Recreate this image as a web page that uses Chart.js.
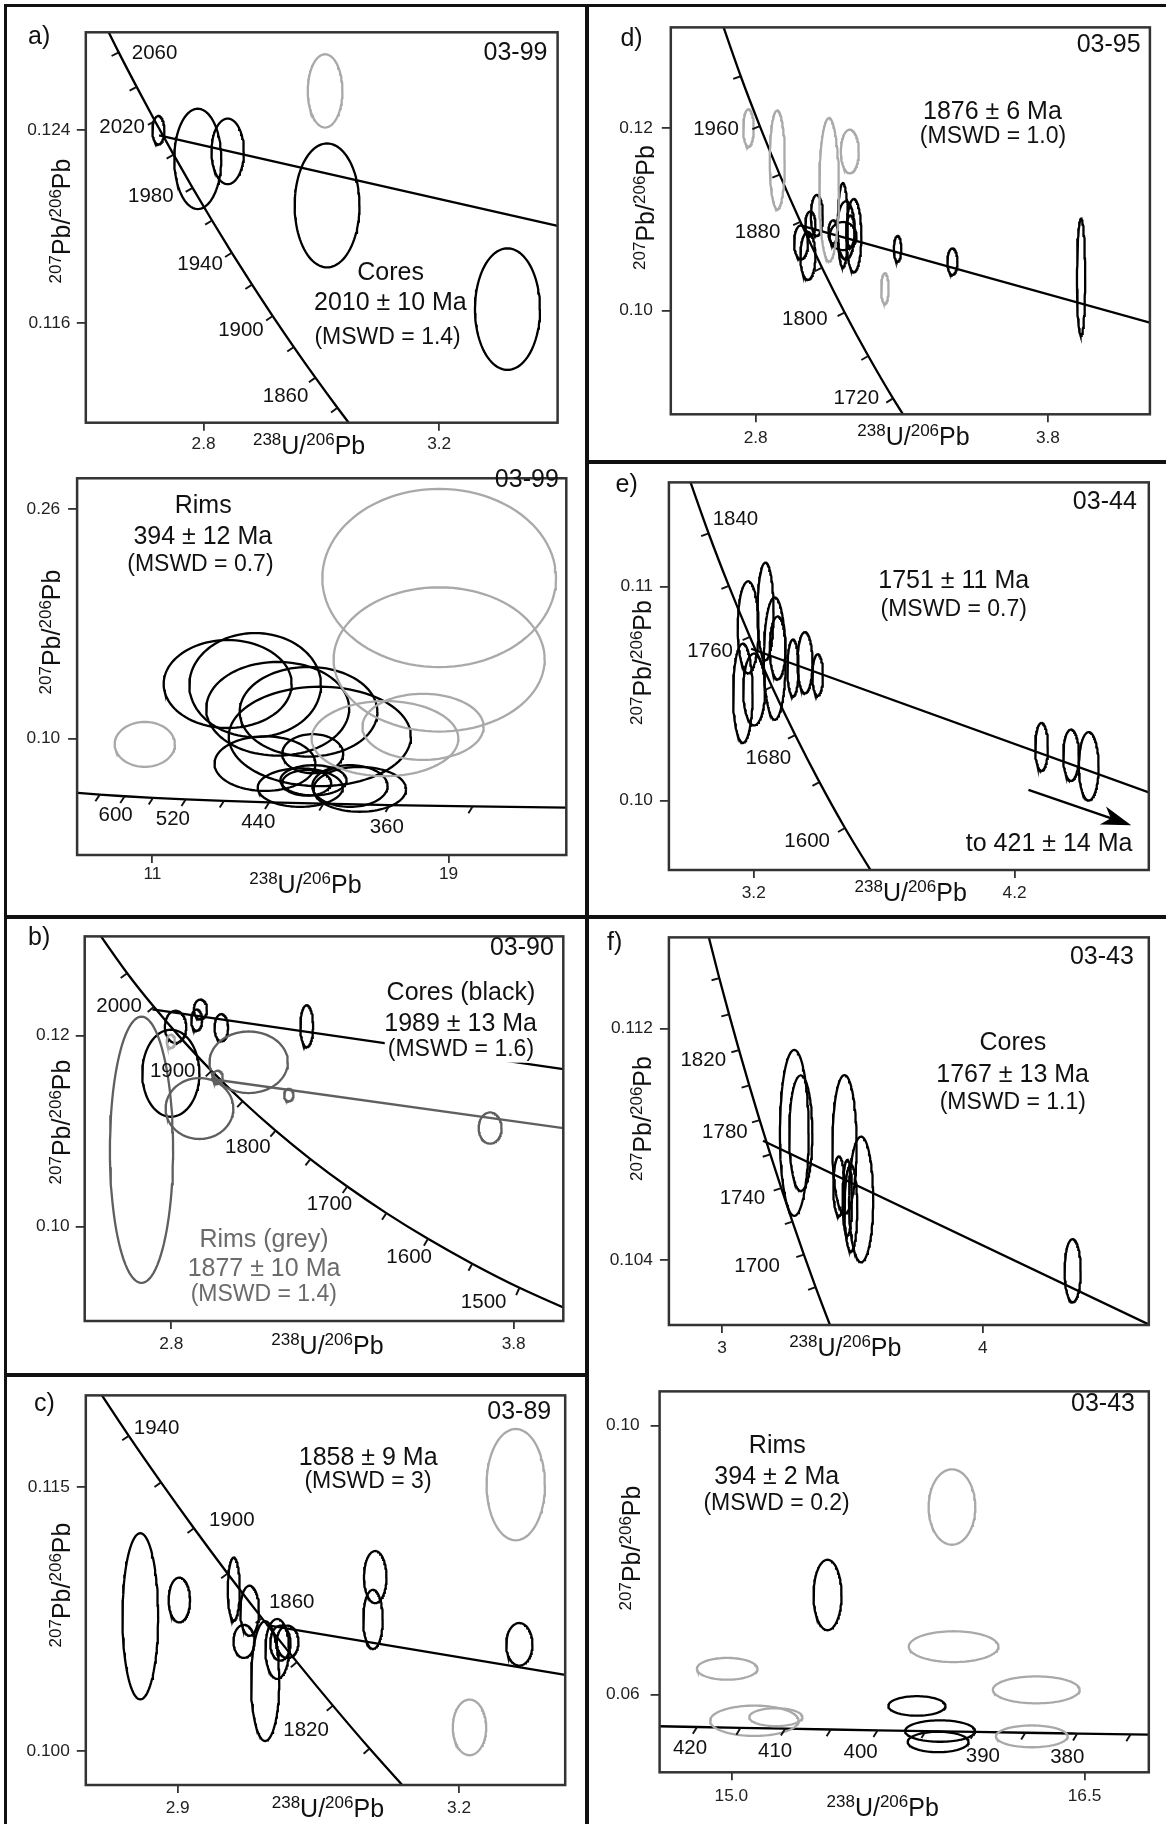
<!DOCTYPE html>
<html><head><meta charset="utf-8"><title>U-Pb concordia diagrams</title>
<script src="https://cdn.jsdelivr.net/npm/chart.js@4.4.1/dist/chart.umd.min.js"></script>
<style>
html,body{margin:0;padding:0;background:#fff;}
#page{position:relative;width:1166px;height:1824px;overflow:hidden;background:#fff;}
#page canvas{position:absolute;}
.rule{position:absolute;background:#111;z-index:5;}
</style></head><body><div id="page">
<div class="rule" style="left:4px;top:4px;width:1162px;height:3px"></div>
<div class="rule" style="left:4px;top:4px;width:3px;height:1820px"></div>
<div class="rule" style="left:585px;top:4px;width:4px;height:1820px"></div>
<div class="rule" style="left:4px;top:915px;width:1162px;height:4px"></div>
<div class="rule" style="left:4px;top:1373px;width:583px;height:4px"></div>
<div class="rule" style="left:587px;top:460px;width:579px;height:4px"></div>
</div>
<script>
// ================= DATA =================
// ellipses: [centre 238U/206Pb, centre 207Pb/206Pb, half-width, half-height]
// ---- a) 03-99 cores ----
const a1ConcAge = [2100,2060,2040,2020,2000,1980,1960,1940,1920,1900,1880,1860,1840,1820];
const a1ConcX = [2.59682,2.65591,2.68638,2.71736,2.74902,2.78132,2.81429,2.84794,2.88229,2.91737,2.95321,2.98983,3.02724,3.06548];
const a1ConcY = [0.130151,0.127227,0.125796,0.124381,0.122987,0.121611,0.120255,0.118916,0.117595,0.116293,0.115008,0.113739,0.112490,0.111254];
const a1ConcLabels = [2060,2020,1980,1940,1900,1860];
const a1Black = [[2.7232,0.12400,0.0102,0.00059],[2.7901,0.12281,0.0399,0.00208],[2.8409,0.12312,0.0275,0.00136],[3.0096,0.12088,0.0550,0.00257],[3.3159,0.11658,0.0552,0.00252]];
const a1Grey = [[3.0063,0.12563,0.0294,0.00152]];
const a1DiscX = [2.7244,3.401];
const a1DiscY = [0.12379,0.12003];
const a1XTicks = [2.8,3.2], a1XLabels = ['2.8','3.2'];
const a1YTicks = [0.116,0.124], a1YLabels = ['0.116','0.124'];
// ---- a) 03-99 rims ----
const a2ConcAge = [720,680,640,600,560,520,480,440,400,360,320,260];
const a2ConcX = [8.4627,8.9888,9.5808,10.2518,11.0187,11.9037,12.9362,14.1566,15.6212,17.4115,19.6491,24.2973];
const a2ConcY = [0.063350,0.062171,0.061022,0.059901,0.058808,0.057743,0.056703,0.055689,0.054701,0.053736,0.052795,0.051427];
const a2ConcLabels = [600,520,440,360];
const a2Black = [[13.034,0.1380,1.729,0.0306],[13.776,0.1373,1.778,0.0362],[14.385,0.1208,1.931,0.0326],[15.218,0.1187,1.860,0.0312],[15.523,0.1015,2.461,0.0346],[14.041,0.0826,1.363,0.0190],[15.331,0.0895,0.823,0.0136],[14.995,0.0659,1.149,0.0134],[15.352,0.0710,0.894,0.0105],[15.169,0.0692,0.661,0.0089],[16.337,0.0670,1.017,0.0145],[16.602,0.0647,1.250,0.0156]];
const a2Grey = [[10.796,0.0960,0.814,0.0156],[18.746,0.2118,3.156,0.0620],[18.746,0.1551,2.851,0.0502],[18.310,0.1082,1.637,0.0230],[17.283,0.1000,1.982,0.0261]];
const a2XTicks = [11,19], a2XLabels = ['11','19'];
const a2YTicks = [0.10,0.26], a2YLabels = ['0.10','0.26'];
// ---- b) 03-90 ----
const bConcAge = [2150,2050,2000,1950,1900,1850,1800,1750,1700,1650,1600,1550,1500,1400];
const bConcX = [2.52608,2.67105,2.74902,2.83102,2.91737,3.00843,3.10458,3.20626,3.31396,3.42823,3.54967,3.67904,3.81699,4.12266];
const bConcY = [0.133920,0.126508,0.122987,0.119583,0.116293,0.113111,0.110036,0.107062,0.104186,0.101406,0.098716,0.096114,0.093597,0.088807];
const bConcLabels = [2000,1900,1800,1700,1600,1500];
const bCores = [[2.8124,0.12090,0.0313,0.00168],[2.8850,0.12272,0.0192,0.00103],[2.8740,0.12160,0.0159,0.00111],[2.9460,0.12081,0.0198,0.00142],[3.1955,0.12097,0.0187,0.00219],[2.7986,0.11604,0.0835,0.00455]];
const bRims = [[2.7129,0.10803,0.0923,0.01393],[2.8823,0.11235,0.0989,0.00319],[3.0260,0.11719,0.1144,0.00322],[2.9354,0.11562,0.0148,0.00069],[3.1431,0.11376,0.0137,0.00065],[3.7313,0.11031,0.0335,0.00163]];
const bExcluded = [[2.7986,0.11938,0.0121,0.00069]];
const bCoreDiscX = [2.7448,3.945], bCoreDiscY = [0.12272,0.11647];
const bRimDiscX = [2.9153,3.945], bRimDiscY = [0.11544,0.11029];
const bXTicks = [2.8,3.8], bXLabels = ['2.8','3.8'];
const bYTicks = [0.10,0.12], bYLabels = ['0.10','0.12'];
// ---- c) 03-89 ----
const cConcAge = [1980,1940,1920,1900,1880,1860,1840,1820,1800,1760];
const cConcX = [2.78132,2.84794,2.88229,2.91737,2.95321,2.98983,3.02724,3.06548,3.10458,3.18546];
const cConcY = [0.123302,0.117912,0.115270,0.112666,0.110096,0.107558,0.105060,0.102588,0.100152,0.095378];
const cConcLabels = [1940,1900,1860,1820];
const cBlack = [[2.8602,0.10766,0.0190,0.00472],[2.9018,0.10859,0.0114,0.00127],[2.9598,0.10921,0.0064,0.00179],[2.9767,0.10798,0.0100,0.00142],[2.9707,0.10624,0.0112,0.00094],[2.9933,0.10398,0.0150,0.00340],[3.0061,0.10581,0.0126,0.00170],[3.0095,0.10614,0.0108,0.00099],[3.0172,0.10621,0.0116,0.00092],[3.1106,0.10989,0.0120,0.00148],[3.1082,0.10749,0.0104,0.00168],[3.2642,0.10607,0.0140,0.00121]];
const cGrey = [[3.2604,0.11514,0.0311,0.00316],[3.2111,0.10135,0.0178,0.00158]];
const cDiscX = [2.995,3.3131], cDiscY = [0.10716,0.10434];
const cXTicks = [2.9,3.2], cXLabels = ['2.9','3.2'];
const cYTicks = [0.100,0.115], cYLabels = ['0.100','0.115'];
// ---- d) 03-95 ----
const dConcAge = [2080,2000,1960,1920,1880,1840,1800,1760,1720,1660];
const dConcX = [2.62608,2.74902,2.81429,2.88229,2.95321,3.02724,3.10458,3.18546,3.27012,3.40481];
const dConcY = [0.137058,0.125674,0.120210,0.114890,0.109716,0.104680,0.099772,0.094998,0.090350,0.083608];
const dConcLabels = [1960,1880,1800,1720];
const dGrey = [[2.7754,0.12000,0.0180,0.00206],[2.8740,0.11650,0.0257,0.00543],[3.0512,0.11322,0.0338,0.00787],[3.1222,0.11743,0.0307,0.00239],[3.2422,0.10240,0.0128,0.00168]];
const dBlack = [[2.9553,0.10747,0.0238,0.00186],[2.9787,0.10598,0.0257,0.00262],[2.9872,0.10951,0.0173,0.00134],[3.0094,0.11042,0.0205,0.00224],[3.0650,0.10861,0.0160,0.00127],[3.0984,0.10933,0.0173,0.00463],[3.1088,0.10879,0.0300,0.00318],[3.0992,0.10815,0.0460,0.00154],[3.1360,0.10821,0.0257,0.00401],[3.1241,0.10870,0.0146,0.00172],[3.2856,0.10676,0.0128,0.00141],[3.4732,0.10535,0.0173,0.00145],[3.9135,0.10364,0.0141,0.00642]];
const dDiscX = [2.9534,4.149], dDiscY = [0.10933,0.09866];
const dXTicks = [2.8,3.8], dXLabels = ['2.8','3.8'];
const dYTicks = [0.10,0.12], dYLabels = ['0.10','0.12'];
// ---- e) 03-44 ----
const eConcAge = [1900,1840,1800,1760,1720,1680,1640,1600,1540];
const eConcX = [2.91737,3.02724,3.10458,3.18546,3.27012,3.35884,3.45192,3.54967,3.70586];
const eConcY = [0.116293,0.112490,0.110036,0.107649,0.105325,0.103063,0.100860,0.098716,0.095603];
const eConcLabels = [1840,1760,1680,1600];
const eBlack = [[3.1785,0.10810,0.0400,0.00215],[3.1583,0.10502,0.0374,0.00232],[3.2013,0.10519,0.0417,0.00168],[3.2451,0.10885,0.0309,0.00228],[3.2804,0.10664,0.0417,0.00286],[3.2916,0.10714,0.0301,0.00147],[3.3504,0.10620,0.0215,0.00133],[3.3964,0.10645,0.0288,0.00143],[3.4450,0.10587,0.0202,0.00097],[4.3031,0.10251,0.0245,0.00112],[4.4162,0.10212,0.0301,0.00120],[4.4841,0.10160,0.0378,0.00160]];
const eDiscX = [3.19,4.7143], eDiscY = [0.10710,0.10038];
const eArrowX = [4.2530,4.6470], eArrowY = [0.10050,0.09884];
const eXTicks = [3.2,4.2], eXLabels = ['3.2','4.2'];
const eYTicks = [0.10,0.11], eYLabels = ['0.10','0.11'];
// ---- f) 03-43 cores ----
const f1ConcAge = [1900,1860,1840,1820,1800,1780,1760,1740,1720,1700,1680,1640];
const f1ConcX = [2.91737,2.98983,3.02724,3.06548,3.10458,3.14456,3.18546,3.22732,3.27012,3.31396,3.35884,3.45192];
const f1ConcY = [0.116293,0.113739,0.112490,0.111254,0.110036,0.108834,0.107649,0.106479,0.105325,0.104186,0.103063,0.100860];
const f1ConcLabels = [1820,1780,1740,1700];
const f1Black = [[3.2772,0.10839,0.0551,0.00287],[3.3021,0.10838,0.0444,0.00200],[3.4697,0.10799,0.0464,0.00240],[3.4482,0.10655,0.0215,0.00103],[3.4804,0.10615,0.0180,0.00131],[3.4942,0.10579,0.0245,0.00150],[3.5333,0.10609,0.0464,0.00217],[4.3442,0.10363,0.0309,0.00109]];
const f1DiscX = [3.1573,4.6330], f1DiscY = [0.10812,0.10178];
const f1XTicks = [3,4], f1XLabels = ['3','4'];
const f1YTicks = [0.104,0.112], f1YLabels = ['0.104','0.112'];
// ---- f) 03-43 rims ----
const f2ConcAge = [430,420,415,410,405,400,395,390,385,380,375,365];
const f2ConcX = [14.4972,14.8541,15.0389,15.2283,15.4223,15.6212,15.8251,16.0343,16.2489,16.4692,16.6953,17.1661];
const f2ConcY = [0.055439,0.055192,0.055068,0.054945,0.054823,0.054701,0.054579,0.054457,0.054335,0.054215,0.054095,0.053855];
const f2ConcLabels = [420,410,400,390,380];
const f2Black = [[15.4083,0.07481,0.0595,0.00524],[15.7879,0.05832,0.1214,0.00145],[15.8864,0.05459,0.1484,0.00159],[15.8783,0.05297,0.1294,0.00152]];
const f2Grey = [[15.9369,0.08788,0.0992,0.00560],[15.9440,0.06713,0.1905,0.00229],[14.9821,0.06384,0.1286,0.00162],[16.2950,0.06071,0.1843,0.00200],[15.0974,0.05612,0.1881,0.00225],[15.1888,0.05665,0.1129,0.00133],[16.2760,0.05380,0.1524,0.00162]];
const f2XTicks = [15.0,16.5], f2XLabels = ['15.0','16.5'];
const f2YTicks = [0.06,0.10], f2YLabels = ['0.06','0.10'];

// ================= STYLE / LAYOUT =================
const FONT = '"Liberation Sans", Arial, Helvetica, sans-serif';
const BLACK = '#000', LIGHT = '#a9a9a9', MID = '#5f5f5f';
const LW = 2.3;
const XT = [['238',1],['U/',0],['206',1],['Pb',0]];
const YT = [['207',1],['Pb/',0],['206',1],['Pb',0]];

function ellipsePts(e){const [cx,cy,rx,ry]=e;const p=[];const N=96;for(let k=0;k<=N;k++){const t=2*Math.PI*k/N;p.push({x:cx+rx*Math.cos(t),y:cy+ry*Math.sin(t)});}return p;}
function pairs(xs,ys){return xs.map((x,i)=>({x:x,y:ys[i]}));}
function ellDs(list,color){return list.map(e=>({data:ellipsePts(e),borderColor:color,borderWidth:LW,pointRadius:0,tension:0,fill:false}));}
function lineDs(xs,ys,color,mono){return {data:pairs(xs,ys),borderColor:color,borderWidth:LW,pointRadius:0,fill:false,tension:mono?0.4:0,cubicInterpolationMode:mono?'monotone':'default'};}

function drawIso(ctx,parts,x,y,rot,color){
  ctx.save();ctx.translate(x,y);if(rot)ctx.rotate(-Math.PI/2);
  let total=0;const w=parts.map(([s,sup])=>{ctx.font=(sup?17:25)+'px '+FONT;const m=ctx.measureText(s).width;total+=m;return m;});
  let cx=-total/2;ctx.textBaseline='alphabetic';ctx.textAlign='left';ctx.fillStyle=color||'#111';
  parts.forEach(([s,sup],i)=>{ctx.font=(sup?17:25)+'px '+FONT;ctx.fillText(s,cx,sup?-9:0);cx+=w[i];});
  ctx.restore();
}

const decor = {
  id:'decor',
  afterDatasetsDraw(chart){
    const o=chart.options.plugins.decor;const ctx=chart.ctx;const xs=chart.scales.x,ys=chart.scales.y,ca=chart.chartArea;
    const c=o.conc;
    const px=c.x.map(v=>xs.getPixelForValue(v)),py=c.y.map(v=>ys.getPixelForValue(v));
    ctx.save();ctx.strokeStyle='#111';ctx.lineWidth=1.9;ctx.font='20.5px '+FONT;ctx.fillStyle='#111';ctx.textBaseline='middle';
    for(let i=1;i<c.age.length-1;i++){
      const X=px[i],Y=py[i];
      if(X<ca.left+3||X>ca.right-3||Y<ca.top+3||Y>ca.bottom-3)continue;
      let tx=px[i+1]-px[i-1],ty=py[i+1]-py[i-1];const tl=Math.hypot(tx,ty);tx/=tl;ty/=tl;
      let nx=-ty+o.skew,ny=tx;const nl=Math.hypot(nx,ny);nx/=nl;ny/=nl;
      ctx.beginPath();ctx.moveTo(X,Y);ctx.lineTo(X+nx*8,Y+ny*8);ctx.stroke();
      if(c.labels.indexOf(c.age[i])>=0){const lp=o.labelPos[c.age[i]];ctx.textAlign=lp[2]||o.labelAlign;ctx.fillText(String(c.age[i]),X+lp[0],Y+lp[1]);}
    }
    ctx.restore();
    if(o.arrow){
      const a=o.arrow;const x1=xs.getPixelForValue(a.x[0]),y1=ys.getPixelForValue(a.y[0]),x2=xs.getPixelForValue(a.x[1]),y2=ys.getPixelForValue(a.y[1]);
      const ang=Math.atan2(y2-y1,x2-x1);const hl=30,hw=9.5;const ca_=Math.cos(ang),sa=Math.sin(ang);
      ctx.save();ctx.strokeStyle='#000';ctx.fillStyle='#000';ctx.lineWidth=2.3;
      ctx.beginPath();ctx.moveTo(x1,y1);ctx.lineTo(x2-ca_*hl*0.7,y2-sa*hl*0.7);ctx.stroke();
      ctx.beginPath();ctx.moveTo(x2,y2);
      ctx.lineTo(x2-ca_*hl+sa*hw,y2-sa*hl-ca_*hw);
      ctx.lineTo(x2-ca_*hl*0.72,y2-sa*hl*0.72);
      ctx.lineTo(x2-ca_*hl-sa*hw,y2-sa*hl+ca_*hw);
      ctx.closePath();ctx.fill();ctx.restore();
    }
    ctx.save();ctx.strokeStyle='#333';ctx.lineWidth=2.5;ctx.strokeRect(ca.left,ca.top,ca.right-ca.left,ca.bottom-ca.top);ctx.restore();
  },
  afterDraw(chart){
    const o=chart.options.plugins.decor;const ctx=chart.ctx;
    o.texts.forEach(t=>{
      ctx.save();ctx.font=t.s+'px '+FONT;ctx.textAlign=t.a||'center';ctx.textBaseline='middle';
      const x=t.x-o.ox,y=t.y-o.oy;
      if(t.bg){const w=ctx.measureText(t.t).width;const x0=t.a==='right'?x-w:(t.a==='left'?x:x-w/2);ctx.fillStyle='#fff';ctx.fillRect(x0-3,y-t.s*0.55,w+6,t.s*1.1);}
      ctx.fillStyle=t.c||'#111';ctx.fillText(t.t,x,y);ctx.restore();
    });
    drawIso(ctx,XT,o.xTitle[0]-o.ox,o.xTitle[1]-o.oy,false);
    drawIso(ctx,YT,o.yTitle[0]-o.ox,o.yTitle[1]-o.oy,true);
  }
};

const page=document.getElementById('page');
function makeChart(L,d){
  const cv=document.createElement('canvas');cv.width=L.w;cv.height=L.h;cv.style.left=L.ox+'px';cv.style.top=L.oy+'px';page.appendChild(cv);
  const tickFont={family:FONT,size:17.3};
  new Chart(cv.getContext('2d'),{
    type:'line',
    data:{datasets:d.datasets},
    options:{
      responsive:false,animation:false,events:[],devicePixelRatio:1,
      layout:{autoPadding:false,padding:{left:0,top:L.T-L.oy,right:L.ox+L.w-L.R,bottom:0}},
      elements:{point:{radius:0},line:{capBezierPoints:false}},
      plugins:{legend:{display:false},tooltip:{enabled:false},
        decor:{ox:L.ox,oy:L.oy,skew:L.skew,labelPos:L.labelPos,labelAlign:L.labelAlign,texts:L.texts,xTitle:L.xTitle,yTitle:L.yTitle,conc:d.conc,arrow:d.arrow||null}},
      scales:{
        x:{type:'linear',min:L.xmin,max:L.xmax,
          afterFit:s=>{s.height=L.oy+L.h-L.B;},
          afterBuildTicks:s=>{s.ticks=d.xTicks.map(v=>({value:v}));},
          ticks:{autoSkip:false,maxRotation:0,minRotation:0,padding:L.xpad,color:'#222',font:tickFont,callback:v=>d.xLabels[d.xTicks.indexOf(v)]},
          grid:{display:true,drawOnChartArea:false,drawTicks:true,tickLength:8,color:'#333',lineWidth:1.8},border:{display:false}},
        y:{type:'linear',min:L.ymin,max:L.ymax,
          afterFit:s=>{s.width=L.L-L.ox;},
          afterBuildTicks:s=>{s.ticks=d.yTicks.map(v=>({value:v}));},
          ticks:{autoSkip:false,padding:L.ypad,color:'#222',font:tickFont,callback:v=>d.yLabels[d.yTicks.indexOf(v)]},
          grid:{display:true,drawOnChartArea:false,drawTicks:true,tickLength:9,color:'#333',lineWidth:1.8},border:{display:false}}
      }
    },
    plugins:[decor]
  });
}
function T(t,x,y,s,a,c,bg){return {t:t,x:x,y:y,s:s,a:a,c:c,bg:bg};}

// ---- a) cores ----
makeChart({ox:8,oy:8,w:576,h:452,L:85.8,T:32.3,R:557.6,B:422.7,xmin:2.6,xmax:3.401,ymin:0.11187,ymax:0.12806,ypad:6.4,xpad:3.3,skew:0,
  labelAlign:'right',labelPos:{2060:[13,1,'left'],2020:[-10,6],1980:[-19,9],1940:[-9,12],1900:[-9,14],1860:[-7,19]},
  texts:[T('a)',28,37.5,25,'left'),T('03-99',547.5,53.3,25,'right'),T('Cores',390.6,273.3,25),T('2010 ± 10 Ma',390.4,303.3,25),T('(MSWD = 1.4)',387.6,337.3,23)],
  xTitle:[309.1,454],yTitle:[69.6,221]},
  {datasets:[...ellDs(a1Grey,LIGHT),...ellDs(a1Black,BLACK),lineDs(a1ConcX,a1ConcY,BLACK,true),lineDs(a1DiscX,a1DiscY,BLACK,false)],
   conc:{age:a1ConcAge,x:a1ConcX,y:a1ConcY,labels:a1ConcLabels},xTicks:a1XTicks,xLabels:a1XLabels,yTicks:a1YTicks,yLabels:a1YLabels});

// ---- a) rims ----
makeChart({ox:8,oy:460,w:576,h:454,L:77.1,T:463.3,R:566.3,B:855,xmin:8.967,xmax:22.18,ymin:0.0190,ymax:0.28122,ypad:7.9,xpad:1,skew:-0.6,
  labelAlign:'center',labelPos:{600:[-9,19],520:[-13,20],440:[-11,20],360:[-3,22]},
  texts:[T('03-99',558.8,480,25,'right'),T('Rims',203.2,506,25),T('394 ± 12 Ma',202.8,537.3,25),T('(MSWD = 0.7)',200.4,565,23)],
  xTitle:[305.4,892.7],yTitle:[60.2,632]},
  {datasets:[...ellDs(a2Grey,LIGHT),...ellDs(a2Black,BLACK),lineDs(a2ConcX,a2ConcY,BLACK,true)],
   conc:{age:a2ConcAge,x:a2ConcX,y:a2ConcY,labels:a2ConcLabels},xTicks:a2XTicks,xLabels:a2XLabels,yTicks:a2YTicks,yLabels:a2YLabels});

// ---- b) ----
makeChart({ox:8,oy:920,w:576,h:452,L:84.7,T:930,R:563.3,B:1321,xmin:2.547,xmax:3.945,ymin:0.09012,ymax:0.13036,ypad:6,xpad:5.3,skew:0,
  labelAlign:'right',labelPos:{2000:[-12,-1],1900:[-16,1],1800:[-5,17],1700:[5,18],1600:[4,19],1500:[-13,15]},
  texts:[T('b)',28,938,25,'left'),T('03-90',553.9,948,25,'right'),T('Cores (black)',460.9,993.3,25),T('1989 ± 13 Ma',460.6,1024.3,25),T('(MSWD = 1.6)',460.9,1050,23,'center',null,true),
    T('Rims (grey)',264,1240,25,'center','#6b6b6b'),T('1877 ± 10 Ma',264,1269,25,'center','#6b6b6b'),T('(MSWD = 1.4)',263.8,1295,23,'center','#6b6b6b')],
  xTitle:[327.4,1354.3],yTitle:[69.6,1122]},
  {datasets:[...ellDs(bExcluded,LIGHT),...ellDs(bRims,MID),lineDs(bRimDiscX,bRimDiscY,MID,false),...ellDs(bCores,BLACK),lineDs(bConcX,bConcY,BLACK,true),lineDs(bCoreDiscX,bCoreDiscY,BLACK,false)],
   conc:{age:bConcAge,x:bConcX,y:bConcY,labels:bConcLabels},xTicks:bXTicks,xLabels:bXLabels,yTicks:bYTicks,yLabels:bYLabels});

// ---- c) ----
makeChart({ox:8,oy:1378,w:576,h:446,L:85.8,T:1394,R:565.2,B:1785,xmin:2.8021,xmax:3.3131,ymin:0.09808,ymax:0.12021,ypad:7,xpad:4.7,skew:0,
  labelAlign:'right',labelPos:{1940:[5,-7,'left'],1900:[15,-8,'left'],1860:[7,-16,'left'],1820:[-4,25,'right']},
  texts:[T('c)',34,1404,25,'left'),T('03-89',551.2,1411.7,25,'right'),T('1858 ± 9 Ma',368.2,1457.7,25),T('(MSWD = 3)',368,1481.7,23)],
  xTitle:[327.9,1816.7],yTitle:[69.6,1585]},
  {datasets:[...ellDs(cGrey,LIGHT),...ellDs(cBlack,BLACK),lineDs(cConcX,cConcY,BLACK,true),lineDs(cDiscX,cDiscY,BLACK,false)],
   conc:{age:cConcAge,x:cConcX,y:cConcY,labels:cConcLabels},xTicks:cXTicks,xLabels:cXLabels,yTicks:cYTicks,yLabels:cYLabels});

// ---- d) ----
makeChart({ox:590,oy:8,w:576,h:451,L:670.8,T:23.3,R:1149.9,B:414.3,xmin:2.5097,xmax:4.149,ymin:0.08861,ymax:0.13103,ypad:9,xpad:5.4,skew:0,
  labelAlign:'right',labelPos:{1960:[-21,3],1880:[-20,11],1800:[-17,7],1720:[-14,0]},
  texts:[T('d)',620.4,39.5,25,'left'),T('03-95',1140.6,45,25,'right'),T('1876 ± 6 Ma',992.4,112.3,25),T('(MSWD = 1.0)',993,136.7,23)],
  xTitle:[913.5,445],yTitle:[654,207.5]},
  {datasets:[...ellDs(dGrey,LIGHT),...ellDs(dBlack,BLACK),lineDs(dConcX,dConcY,BLACK,true),lineDs(dDiscX,dDiscY,BLACK,false)],
   conc:{age:dConcAge,x:dConcX,y:dConcY,labels:dConcLabels},xTicks:dXTicks,xLabels:dXLabels,yTicks:dYTicks,yLabels:dYLabels});

// ---- e) ----
makeChart({ox:590,oy:465,w:576,h:449,L:668.9,T:479,R:1148.8,B:870,xmin:2.8748,xmax:4.7143,ymin:0.09675,ymax:0.11488,ypad:7,xpad:4.7,skew:0,
  labelAlign:'right',labelPos:{1840:[4,-14,'left'],1760:[-17,14],1680:[-4,23],1600:[-15,13]},
  texts:[T('e)',615.5,485,25,'left'),T('03-44',1136.8,501.7,25,'right'),T('1751 ± 11 Ma',953.7,581,25),T('(MSWD = 0.7)',953.7,610,23),T('to 421 ± 14 Ma',1132.4,844.3,25,'right')],
  xTitle:[910.7,901],yTitle:[651,662.5]},
  {datasets:[...ellDs(eBlack,BLACK),lineDs(eConcX,eConcY,BLACK,true),lineDs(eDiscX,eDiscY,BLACK,false)],
   conc:{age:eConcAge,x:eConcX,y:eConcY,labels:eConcLabels},arrow:{x:eArrowX,y:eArrowY},xTicks:eXTicks,xLabels:eXLabels,yTicks:eYTicks,yLabels:eYLabels});

// ---- f) cores ----
makeChart({ox:590,oy:920,w:576,h:450,L:668.9,T:934,R:1148.8,B:1325,xmin:2.7966,xmax:4.6361,ymin:0.10175,ymax:0.11515,ypad:7,xpad:4.7,skew:0,
  labelAlign:'right',labelPos:{1820:[-13,10],1780:[-12,12],1740:[-16,10],1700:[-24,12]},
  texts:[T('f)',607,943,25,'left'),T('03-43',1133.9,956.7,25,'right'),T('Cores',1012.8,1043.3,25),T('1767 ± 13 Ma',1012.6,1075,25),T('(MSWD = 1.1)',1012.8,1102.7,23)],
  xTitle:[845.3,1356],yTitle:[651,1118.5]},
  {datasets:[...ellDs(f1Black,BLACK),lineDs(f1ConcX,f1ConcY,BLACK,true),lineDs(f1DiscX,f1DiscY,BLACK,false)],
   conc:{age:f1ConcAge,x:f1ConcX,y:f1ConcY,labels:f1ConcLabels},xTicks:f1XTicks,xLabels:f1XLabels,yTicks:f1YTicks,yLabels:f1YLabels});

// ---- f) rims ----
makeChart({ox:590,oy:1370,w:576,h:454,L:659.6,T:1381.7,R:1148.8,B:1772.3,xmin:14.695,xmax:16.773,ymin:0.04846,ymax:0.10507,ypad:11,xpad:5.7,skew:-0.6,
  labelAlign:'center',labelPos:{420:[-7,21],410:[-10,23],400:[-17,22],390:[8,24],380:[-10,24]},
  texts:[T('03-43',1135,1404.3,25,'right'),T('Rims',777.3,1446,25),T('394 ± 2 Ma',776.8,1476.7,25),T('(MSWD = 0.2)',776.6,1503.3,23)],
  xTitle:[882.7,1816],yTitle:[639.8,1548]},
  {datasets:[...ellDs(f2Grey,LIGHT),...ellDs(f2Black,BLACK),lineDs(f2ConcX,f2ConcY,BLACK,true)],
   conc:{age:f2ConcAge,x:f2ConcX,y:f2ConcY,labels:f2ConcLabels},xTicks:f2XTicks,xLabels:f2XLabels,yTicks:f2YTicks,yLabels:f2YLabels});
</script></body></html>
